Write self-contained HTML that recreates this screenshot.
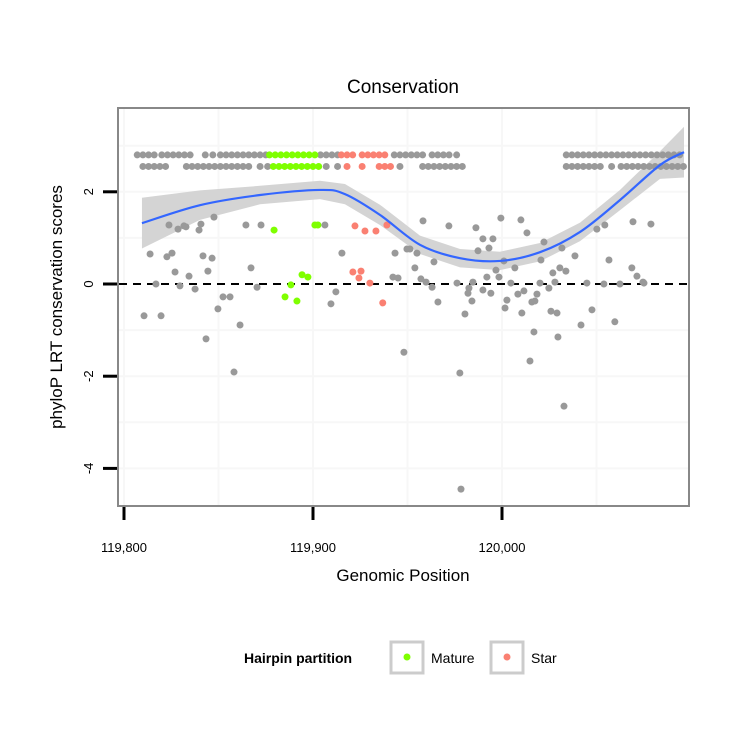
<!DOCTYPE html>
<html><head><meta charset="utf-8"><style>
body{margin:0;background:#fff;width:750px;height:750px;overflow:hidden}
svg text{font-family:"Liberation Sans",sans-serif}
</style></head><body>
<svg id="chart" width="750" height="750">
<text x="403" y="93" font-size="19" text-anchor="middle">Conservation</text>
<g id="grid"></g>
<g id="band"></g>
<g id="pts"></g>
<g id="curve"></g>
<rect x="118" y="108" width="571" height="398" fill="none" stroke="#888" stroke-width="2"/>
<g id="axes"></g>
<text x="403" y="581" font-size="17" text-anchor="middle">Genomic Position</text>
<text x="0" y="0" font-size="17" text-anchor="middle" transform="translate(62,307) rotate(-90)">phyloP LRT conservation scores</text>
<g>
<text x="244" y="663" font-size="14" font-weight="bold">Hairpin partition</text>
<rect x="391" y="642" width="32" height="31" fill="#fff" stroke="#ccc" stroke-width="3"/>
<circle cx="407" cy="657" r="3.5" fill="#7FFF00"/>
<text x="431" y="663" font-size="14">Mature</text>
<rect x="491" y="642" width="32" height="31" fill="#fff" stroke="#ccc" stroke-width="3"/>
<circle cx="507" cy="657" r="3.5" fill="#FA8072"/>
<text x="531" y="663" font-size="14">Star</text>
</g>
</svg>
<script>
const xTicks=[119800,119900,120000];
const xTickLabels=["119,800","119,900","120,000"];
const yTicks=[2,0,-2,-4];
const yTickLabels=["2","0","-2","-4"];
const topRowX=[119807,119810,119813,119816,119820,119823,119826,119829,119832,119835,119843,119847,119851,119854,119857,119860,119863,119866,119869,119872,119875,119904,119907,119910,119913,119943,119946,119949,119952,119955,119958,119963,119966,119969,119972,119976,120034,120037,120040,120043,120046,120049,120052,120055,120058,120061,120064,120067,120070,120073,120076,120079,120082,120085,120088,120091,120094];
const topRowMatureX=[119877,119880,119883,119886,119889,119892,119895,119898,119901];
const topRowStarX=[119915,119918,119921,119926,119929,119932,119935,119938];
const secondRowX=[119810,119813,119816,119819,119822,119833,119836,119839,119842,119845,119848,119851,119854,119857,119860,119863,119866,119872,119876,119907,119913,119946,119958,119961,119964,119967,119970,119973,119976,119979,120034,120037,120040,120043,120046,120049,120052,120058,120063,120066,120069,120072,120075,120078,120081,120084,120087,120090,120093,120096];
const secondRowMatureX=[119879,119882,119885,119888,119891,119894,119897,119900,119903];
const secondRowStarX=[119918,119926,119935,119938,119941];
const topRowY=2.8, secondRowY=2.55;
const otherX=[119823.8,119828.6,119831.7,119832.8,119839.7,119840.7,119847.6,119864.5,119872.5,119906.3,119813.8,119822.7,119825.4,119841.8,119846.6,119915.3,119943.4,119949.7,119827,119834.4,119844.4,119867.2,119942.3,119945,119816.9,119829.6,119837.6,119870.4,119852.4,119856.1,119912.1,119909.5,119810.6,119819.6,119849.7,119861.4,119843.4,119858.2,119948.1,119958.2,119971.9,119986.2,119999.4,120010,120013.2,119989.9,119995.2,119993.1,119987.3,120022.2,120031.7,120038.6,120050.2,120054.4,120069.3,120078.8,119951.3,119955,119964,119953.9,120001,120006.8,119996.8,120020.6,120056.6,120068.7,120071.4,120074.6,120030.6,120033.8,120026.9,119957.1,119959.8,119963,119976.2,119984.6,119992,119998.4,120004.7,120020.1,120028,120044.9,120053.9,120062.4,120075.1,119982.5,119982,119989.9,119994.1,120024.8,120008.4,120011.6,120018.5,119984.1,119966.1,120002.6,120001.6,120015.8,120017.4,119980.4,120010.5,120025.9,120029.1,120047.6,120041.8,120059.7,120016.9,120029.6,120014.8,119977.7,120032.8,119978.3];
const otherY=[1.28,1.19,1.26,1.24,1.17,1.30,1.45,1.28,1.28,1.28,0.65,0.59,0.67,0.61,0.56,0.67,0.67,0.76,0.26,0.17,0.28,0.35,0.15,0.13,0,-0.04,-0.11,-0.07,-0.28,-0.28,-0.17,-0.43,-0.69,-0.69,-0.54,-0.89,-1.19,-1.91,-1.48,1.37,1.26,1.22,1.43,1.39,1.11,0.98,0.98,0.78,0.72,0.91,0.78,0.61,1.19,1.28,1.35,1.30,0.76,0.67,0.48,0.35,0.50,0.35,0.30,0.52,0.52,0.35,0.17,0.04,0.35,0.28,0.24,0.11,0.04,-0.07,0.02,0.04,0.15,0.15,0.02,0.02,0.04,0.02,0,0,0.02,-0.09,-0.2,-0.13,-0.2,-0.09,-0.22,-0.15,-0.22,-0.37,-0.39,-0.35,-0.52,-0.39,-0.37,-0.65,-0.63,-0.59,-0.63,-0.56,-0.89,-0.82,-1.04,-1.15,-1.67,-1.93,-2.65,-4.45];
const matureX=[119879.4,119901,119902.6,119894.2,119897.3,119888.3,119885.2,119891.5];
const matureY=[1.17,1.28,1.28,0.2,0.15,-0.02,-0.28,-0.37];
const starX=[119922.2,119927.5,119933.3,119939.1,119921.1,119925.4,119924.3,119930.1,119936.9];
const starY=[1.26,1.15,1.15,1.28,0.26,0.28,0.13,0.02,-0.41];
const smoothX=[119809.5,119840.2,119872,119903.7,119916.9,119935.4,119956.6,119977.8,119998.9,120020.1,120041.3,120062.4,120083.6,120096.3];
const smoothY=[1.32,1.71,1.93,2.04,1.95,1.50,0.85,0.56,0.50,0.69,1.13,1.82,2.58,2.86];
const smoothSE=[0.55,0.32,0.2,0.2,0.22,0.22,0.2,0.2,0.2,0.2,0.2,0.22,0.3,0.55];

const NS='http://www.w3.org/2000/svg';
const sx=v=>124+(v-119800)*1.89;
const sy=v=>284-v*46.1;
function mk(tag,attrs,parent){const e=document.createElementNS(NS,tag);for(const k in attrs)e.setAttribute(k,attrs[k]);document.getElementById(parent).appendChild(e);return e;}

[119850,119950,120050,119800,119900,120000].forEach(v=>{const l=mk('line',{x1:sx(v),x2:sx(v),y1:109,y2:505,stroke:'#f7f7f7','stroke-width':2},'grid');

});
[3,1,-1,-3,2,-2,-4].forEach(v=>{const l=mk('line',{x1:119,x2:688,y1:sy(v),y2:sy(v),stroke:'#f7f7f7','stroke-width':2},'grid');

});

let up=smoothX.map((x,i)=>sx(x)+','+sy(smoothY[i]+smoothSE[i]));
let lo=smoothX.map((x,i)=>sx(x)+','+sy(smoothY[i]-smoothSE[i])).reverse();
const band=mk('polygon',{points:up.concat(lo).join(' '),fill:'#d4d4d4'},'band');



const z=mk('line',{x1:119,x2:688,y1:sy(0),y2:sy(0),stroke:'#000','stroke-width':2,'stroke-dasharray':'8,6'},'pts');



function dots(xs,ys,color,name){xs.forEach((x,i)=>{const c=mk('circle',{cx:sx(x),cy:sy(typeof ys==='number'?ys:ys[i]),r:3.5,fill:color},'pts');

});}
dots(topRowX,topRowY,'#999','point-other');
dots(secondRowX,secondRowY,'#999','point-other');
dots(otherX,otherY,'#999','point-other');
dots(topRowMatureX,topRowY,'#7FFF00','point-mature');
dots(secondRowMatureX,secondRowY,'#7FFF00','point-mature');
dots(matureX,matureY,'#7FFF00','point-mature');
dots(topRowStarX,topRowY,'#FA8072','point-star');
dots(secondRowStarX,secondRowY,'#FA8072','point-star');
dots(starX,starY,'#FA8072','point-star');

const P=smoothX.map((x,i)=>[sx(x),sy(smoothY[i])]);
let d='M'+P[0][0]+','+P[0][1];
for(let i=0;i<P.length-1;i++){const p0=P[Math.max(i-1,0)],p1=P[i],p2=P[i+1],p3=P[Math.min(i+2,P.length-1)];
d+=' C'+(p1[0]+(p2[0]-p0[0])/6)+','+(p1[1]+(p2[1]-p0[1])/6)+' '+(p2[0]-(p3[0]-p1[0])/6)+','+(p2[1]-(p3[1]-p1[1])/6)+' '+p2[0]+','+p2[1];}
const cv=mk('path',{d:d,fill:'none',stroke:'#3366FF','stroke-width':2.2},'curve');



xTicks.forEach((v,i)=>{const t=mk('line',{x1:sx(v),x2:sx(v),y1:507,y2:520,stroke:'#000','stroke-width':3},'axes');


const l=mk('text',{x:sx(v),y:552,'font-size':13,'text-anchor':'middle'},'axes');l.textContent=xTickLabels[i];

});
yTicks.forEach((v,i)=>{const t=mk('line',{x1:103,x2:117,y1:sy(v),y2:sy(v),stroke:'#000','stroke-width':3},'axes');


const l=mk('text',{x:0,y:0,'font-size':13,'text-anchor':'middle',transform:'translate(93,'+sy(v)+') rotate(-90)'},'axes');l.textContent=yTickLabels[i];

});
</script>
</body></html>
